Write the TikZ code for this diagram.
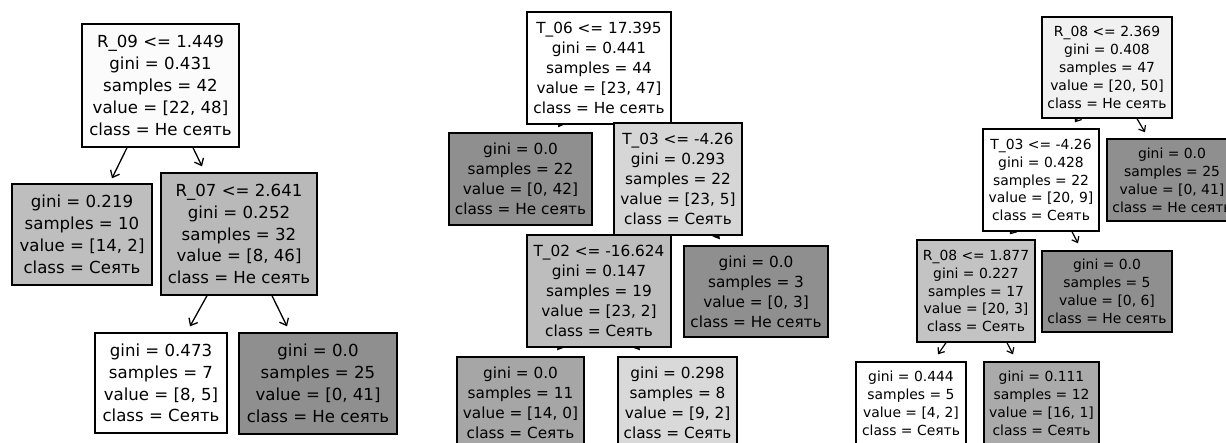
\documentclass[tikz,border=0pt]{standalone}
\usepackage{fontspec}
\setmainfont{DejaVu Sans}
\usetikzlibrary{arrows.meta}
\pgfdeclarelayer{background}
\pgfsetlayers{background,main}

% one text size per tree
\newcommand\treefontA{\fontsize{16.6}{21.8}\selectfont}
\newcommand\treefontB{\fontsize{15.3}{20}\selectfont}
\newcommand\treefontC{\fontsize{13.9}{17.9}\selectfont}
\newcommand\us{\textunderscore}

% grey levels of the filled boxes
\definecolor{gA}{gray}{0.985}
\definecolor{gB}{gray}{0.745}
\definecolor{gC}{gray}{0.725}
\definecolor{gDark}{gray}{0.56}
\definecolor{gLight}{gray}{0.84}
\definecolor{gMid}{gray}{0.74}
\definecolor{gLeafS}{gray}{0.65}
\definecolor{gLeafL}{gray}{0.85}
\definecolor{gRoot3}{gray}{0.945}
\definecolor{gR08}{gray}{0.765}
\definecolor{gLeafT}{gray}{0.665}

\tikzset{
  tbox/.style={draw=black, line width=1.4pt, rectangle, inner sep=0pt, align=center},
  arrA/.style={-{Straight Barb[length=6pt,width=10pt]}, line width=1.3pt},
  arrB/.style={-{Stealth[length=7pt,width=8pt]}, line width=1.2pt},
  arrC/.style={-{Straight Barb[length=5pt,width=8pt]}, line width=1.2pt},
}

\begin{document}
\begin{tikzpicture}[x=1pt,y=-1pt]
\useasboundingbox (0,0) rectangle (1226,443);
\clip (0,0) rectangle (1226,443);

% ---------- first tree ----------
\node[tbox, fill=gA, minimum width=157pt, minimum height=123pt, font=\treefontA] (a1) at (160.5,85.5)
  {R\us 09 <= 1.449\\gini = 0.431\\samples = 42\\value = [22, 48]\\class = Не сеять};
\node[tbox, fill=gB, minimum width=140pt, minimum height=101pt, font=\treefontA] (a2) at (82,234.5)
  {gini = 0.219\\samples = 10\\value = [14, 2]\\class = Сеять};
\node[tbox, fill=gC, minimum width=156pt, minimum height=122pt, font=\treefontA] (a3) at (239,234)
  {R\us 07 <= 2.641\\gini = 0.252\\samples = 32\\value = [8, 46]\\class = Не сеять};
\node[tbox, fill=white, minimum width=132pt, minimum height=100pt, font=\treefontA] (a4) at (161,383)
  {gini = 0.473\\samples = 7\\value = [8, 5]\\class = Сеять};
\node[tbox, fill=gDark, minimum width=158pt, minimum height=101pt, font=\treefontA] (a5) at (318,383.5)
  {gini = 0.0\\samples = 25\\value = [0, 41]\\class = Не сеять};

% ---------- second tree ----------
\node[tbox, fill=white, minimum width=144pt, minimum height=112pt, font=\treefontB] (b1) at (599,68)
  {T\us 06 <= 17.395\\gini = 0.441\\samples = 44\\value = [23, 47]\\class = Не сеять};
\node[tbox, fill=gDark, minimum width=143pt, minimum height=92pt, font=\treefontB] (b2) at (520.5,179)
  {gini = 0.0\\samples = 22\\value = [0, 42]\\class = Не сеять};
\node[tbox, fill=gLight, minimum width=128pt, minimum height=112pt, font=\treefontB] (b3) at (678,179)
  {T\us 03 <= -4.26\\gini = 0.293\\samples = 22\\value = [23, 5]\\class = Сеять};
\node[tbox, fill=gMid, minimum width=144pt, minimum height=112pt, font=\treefontB] (b4) at (599,291)
  {T\us 02 <= -16.624\\gini = 0.147\\samples = 19\\value = [23, 2]\\class = Сеять};
\node[tbox, fill=gDark, minimum width=144pt, minimum height=91pt, font=\treefontB] (b5) at (756,291.5)
  {gini = 0.0\\samples = 3\\value = [0, 3]\\class = Не сеять};
\node[tbox, fill=gLeafS, minimum width=127pt, minimum height=92pt, font=\treefontB] (b6) at (520.5,403)
  {gini = 0.0\\samples = 11\\value = [14, 0]\\class = Сеять};
\node[tbox, fill=gLeafL, minimum width=119pt, minimum height=92pt, font=\treefontB] (b7) at (677.5,403)
  {gini = 0.298\\samples = 8\\value = [9, 2]\\class = Сеять};

% ---------- third tree ----------
\node[tbox, fill=gRoot3, minimum width=130pt, minimum height=101pt, font=\treefontC] (c1) at (1107,67.5)
  {R\us 08 <= 2.369\\gini = 0.408\\samples = 47\\value = [20, 50]\\class = Не сеять};
\node[tbox, fill=white, minimum width=116pt, minimum height=102pt, font=\treefontC] (c2) at (1041,180)
  {T\us 03 <= -4.26\\gini = 0.428\\samples = 22\\value = [20, 9]\\class = Сеять};
\node[tbox, fill=gDark, minimum width=130pt, minimum height=82pt, font=\treefontC] (c3) at (1172,180)
  {gini = 0.0\\samples = 25\\value = [0, 41]\\class = Не сеять};
\node[tbox, fill=gR08, minimum width=118pt, minimum height=102pt, font=\treefontC] (c4) at (976,291)
  {R\us 08 <= 1.877\\gini = 0.227\\samples = 17\\value = [20, 3]\\class = Сеять};
\node[tbox, fill=gDark, minimum width=130pt, minimum height=81pt, font=\treefontC] (c5) at (1107,291.5)
  {gini = 0.0\\samples = 5\\value = [0, 6]\\class = Не сеять};
\node[tbox, fill=white, minimum width=110pt, minimum height=83pt, font=\treefontC] (c6) at (911,403.5)
  {gini = 0.444\\samples = 5\\value = [4, 2]\\class = Сеять};
\node[tbox, fill=gLeafT, minimum width=115pt, minimum height=83pt, font=\treefontC] (c7) at (1041.5,403.5)
  {gini = 0.111\\samples = 12\\value = [16, 1]\\class = Сеять};

% ---------- connectors, kept behind the boxes ----------
\begin{pgfonlayer}{background}
\fill[white] (0,0) rectangle (1226,443);
% first tree
\draw[arrA] ([xshift=-33.5pt]a1.south) -- ([xshift=30pt,yshift=5pt]a2.north);
\draw[arrA] ([xshift=32.5pt]a1.south) -- ([xshift=-37pt,yshift=6pt]a3.north);
\draw[arrA] ([xshift=-32pt]a3.south) -- ([xshift=29pt,yshift=6pt]a4.north);
\draw[arrA] ([xshift=33pt]a3.south) -- ([xshift=-31pt,yshift=6pt]a5.north);
% second tree
\draw[arrB] ([xshift=-33pt,yshift=8pt]b1.south) -- ([xshift=37.5pt,yshift=5pt]b2.north);
\draw[arrB] ([xshift=34pt,yshift=6pt]b3.south) -- ([xshift=-36pt,yshift=6pt]b5.north);
\draw[arrB] ([xshift=-34pt,yshift=7pt]b4.south) -- ([xshift=36.5pt,yshift=6pt]b6.north);
\draw[arrB] ([xshift=33pt,yshift=7pt]b4.south) -- ([xshift=-37.5pt,yshift=6pt]b7.north);
% third tree
\draw[arrC] ([xshift=-25pt,yshift=7pt]c1.south) -- ([xshift=34pt,yshift=6pt]c2.north);
\draw[arrC] ([xshift=30pt]c1.south) -- ([xshift=-27pt,yshift=6pt]c3.north);
\draw[arrC] ([xshift=-24pt,yshift=7pt]c2.south) -- ([xshift=34pt,yshift=5pt]c4.north);
\draw[arrC] ([xshift=31pt]c2.south) -- ([xshift=-29pt,yshift=7pt]c5.north);
\draw[arrC] ([xshift=-30pt]c4.south) -- ([xshift=27pt,yshift=7pt]c6.north);
\draw[arrC] ([xshift=31pt]c4.south) -- ([xshift=-28.5pt,yshift=7pt]c7.north);
\end{pgfonlayer}
\end{tikzpicture}
\end{document}
